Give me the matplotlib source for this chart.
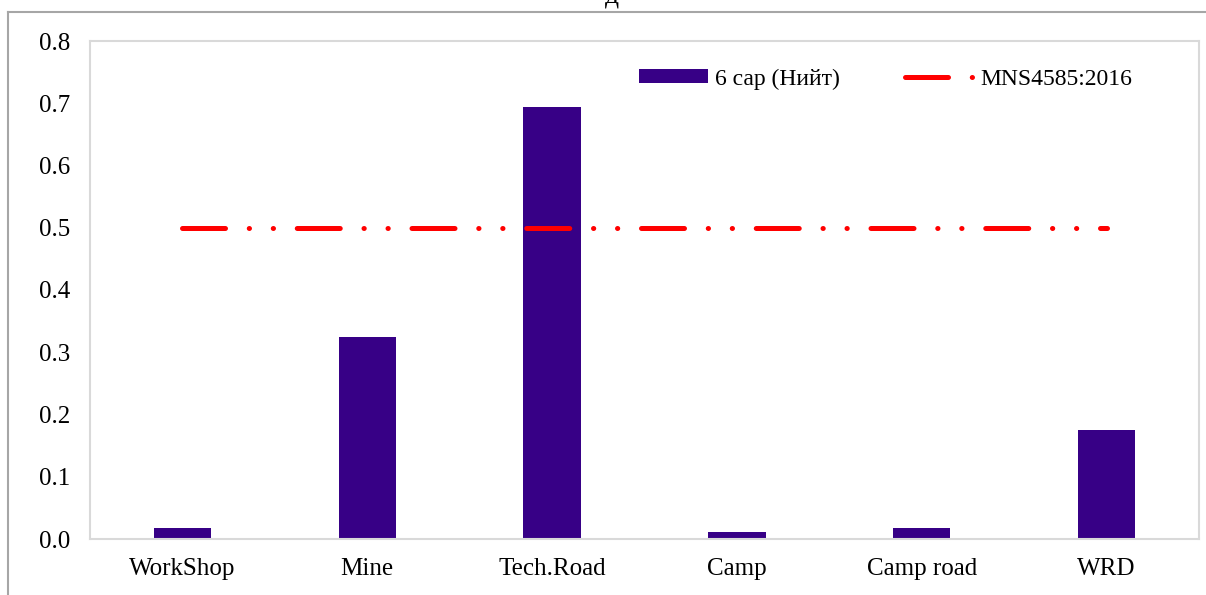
import matplotlib.pyplot as plt
from matplotlib.lines import Line2D

plt.rcParams['font.family'] = ['Liberation Serif', 'DejaVu Serif']

categories = ['WorkShop', 'Mine', 'Tech.Road', 'Camp', 'Camp road', 'WRD']
values = [0.018, 0.325, 0.694, 0.011, 0.018, 0.175]
standard = [0.5] * len(categories)
yticks = [0.0, 0.1, 0.2, 0.3, 0.4, 0.5, 0.6, 0.7, 0.8]

fig = plt.figure(figsize=(12.06, 5.95), dpi=100)
ax = fig.add_axes([90 / 1206, 1 - 539 / 595, 1109 / 1206, 498 / 595])

x = list(range(len(categories)))
bars = ax.bar(x, values, width=0.31, color='#370086', label='6 сар (Нийт)', zorder=2)
line, = ax.plot(x, standard, color='#ff0000', linewidth=3.6, solid_capstyle='round',
                dash_capstyle='round',
                linestyle=(0, (8.6, 4.75, 0.05, 4.75, 0.05, 4.75)),
                label='MNS4585:2016', zorder=3)

ax.set_xlim(-0.5, len(categories) - 0.5)
ax.set_ylim(0, 0.8)
ax.set_yticks(yticks)
ax.set_yticklabels([f'{v:.1f}' for v in yticks])
ax.set_xticks(x)
ax.set_xticklabels(categories)
ax.tick_params(axis='both', length=0, labelsize=18)
ax.tick_params(axis='y', pad=14)
ax.tick_params(axis='x', pad=14)
for s in ax.spines.values():
    s.set_color('#d9d9d9')
    s.set_linewidth(1.5)

ax.legend([bars, line], ['6 сар (Нийт)', 'MNS4585:2016'],
          loc='center left', bbox_to_anchor=(540 / 1109, 1 - 38 / 498), ncol=2,
          frameon=False, fontsize=17, handlelength=2.9, handleheight=0.5,
          columnspacing=2.75, handletextpad=0.3, borderaxespad=0)

# outer chart frame
fig.add_artist(Line2D([8 / 1206, 1], [1 - 12 / 595, 1 - 12 / 595], color='#a6a6a6', lw=1.5))
fig.add_artist(Line2D([8 / 1206, 8 / 1206], [0, 1 - 12 / 595], color='#a6a6a6', lw=1.5))

# title mostly cut off at the top
fig.text(612 / 1206, 1 - 3 / 595, 'д', ha='center', va='baseline', fontsize=20)

fig.savefig('out.png', dpi=100)
